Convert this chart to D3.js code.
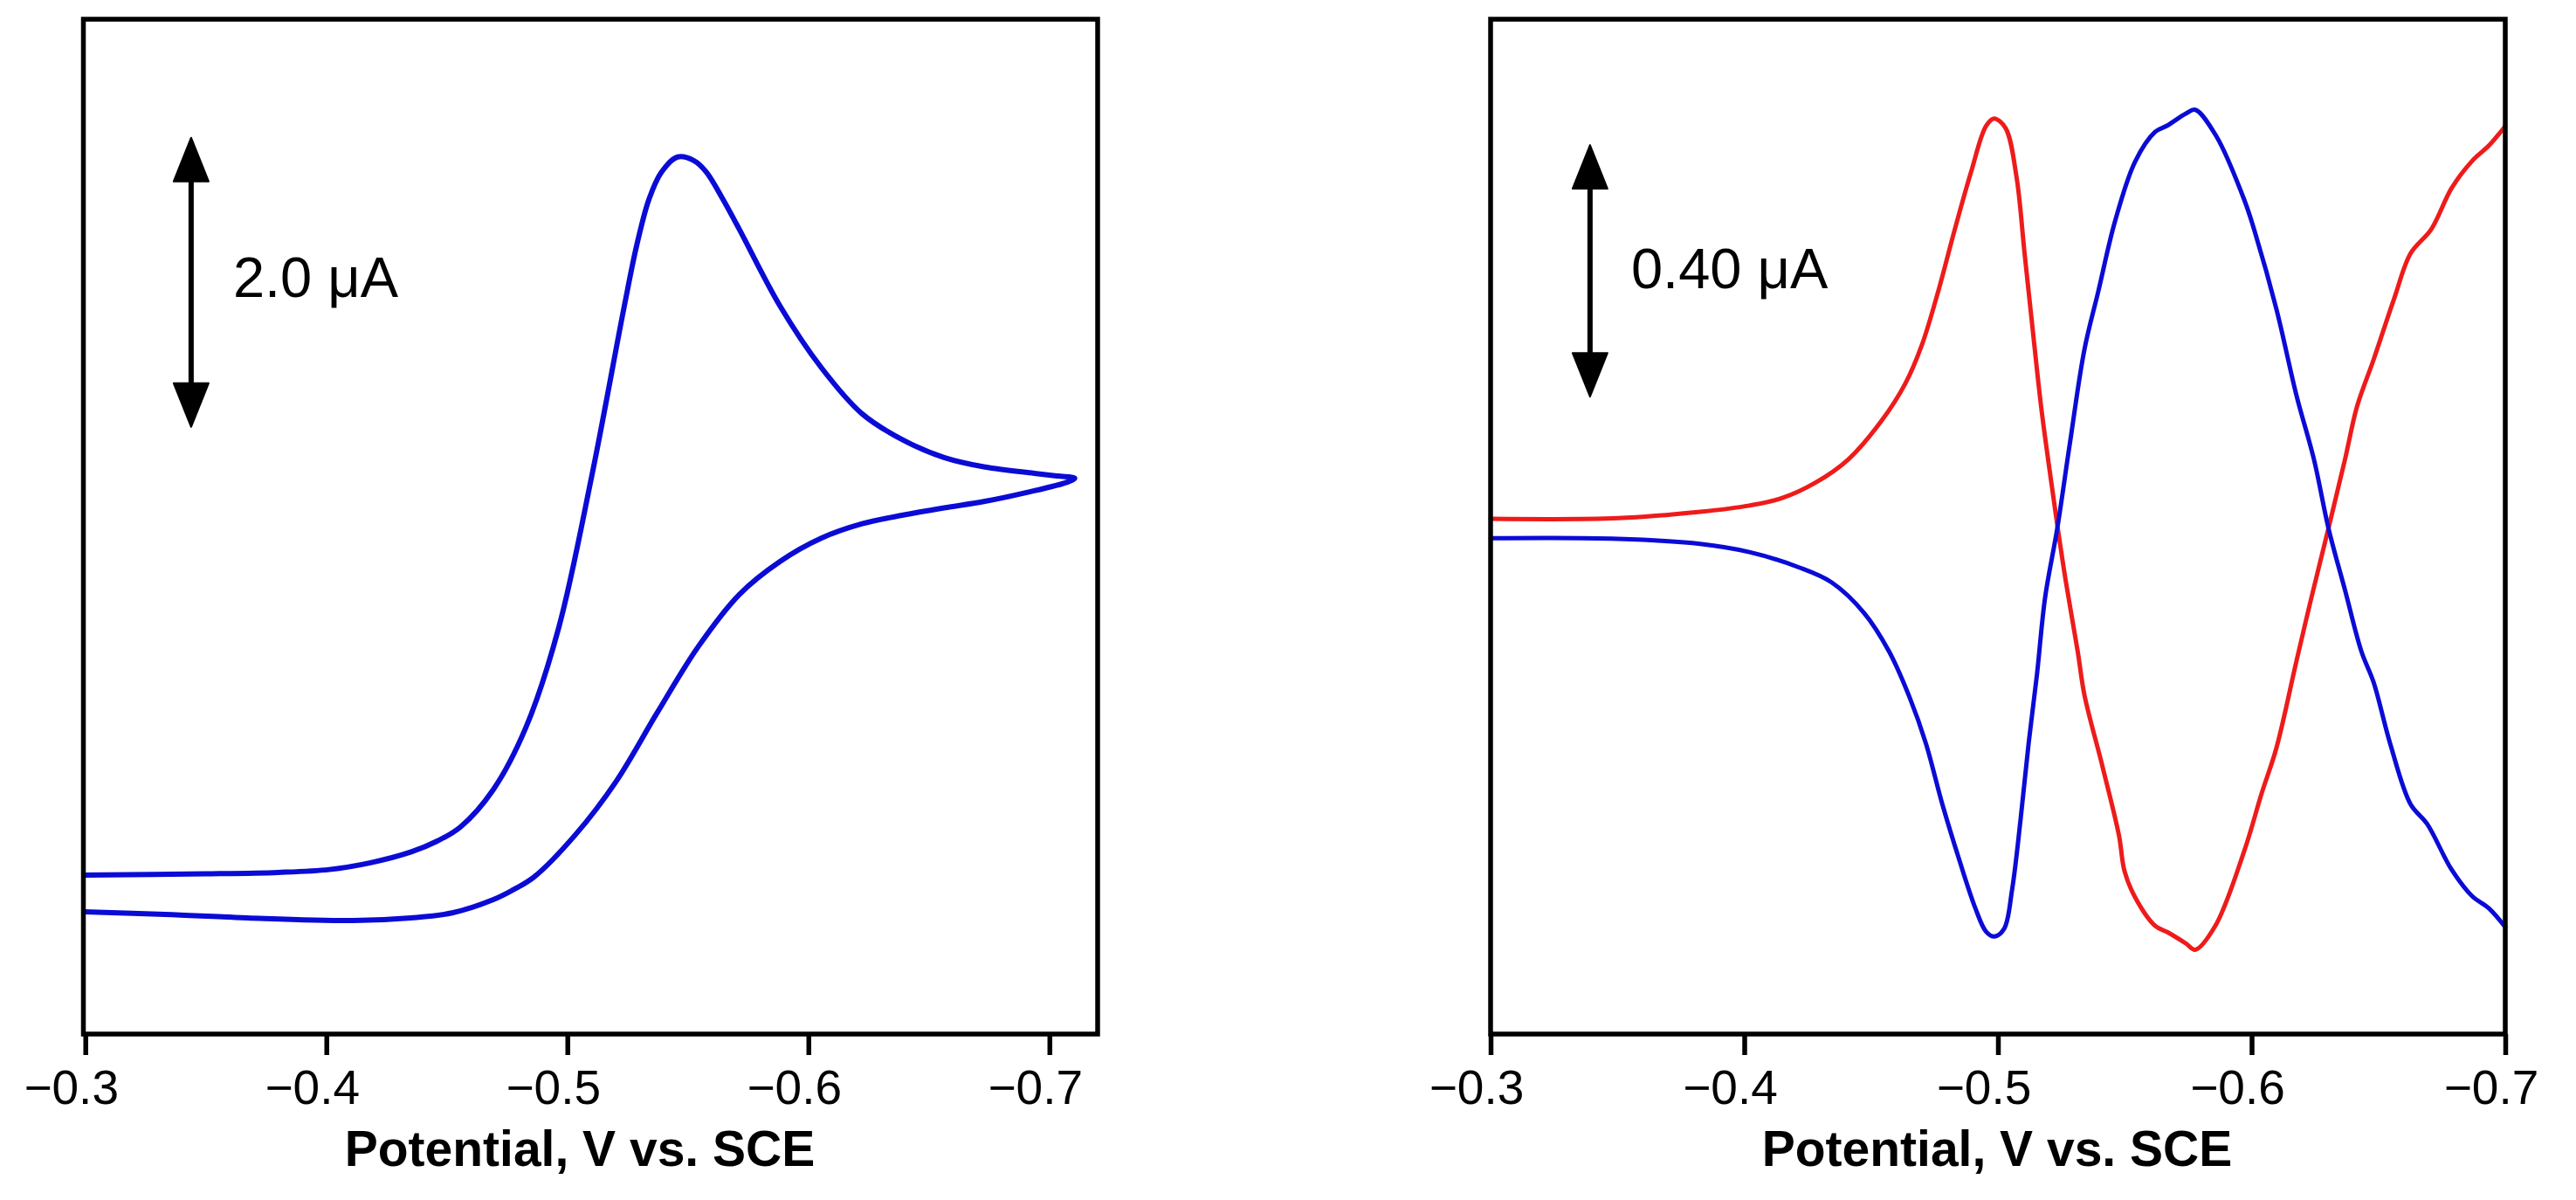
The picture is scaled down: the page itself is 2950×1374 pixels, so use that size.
<!DOCTYPE html>
<html>
<head>
<meta charset="utf-8">
<script src="https://cdn.jsdelivr.net/npm/d3@7"></script>
<style>
  html, body { margin: 0; padding: 0; background: #fff; }
  svg { display: block; }
  text { font-family: "Liberation Sans", Arial, Helvetica, sans-serif; fill: #000; }
</style>
</head>
<body>
<script>
// ---------- DATA ----------
// Left panel: cyclic voltammogram (potential V vs. SCE, current µA, arbitrary zero)
const cvForwardV = [-0.2995, -0.3500, -0.3800, -0.4012, -0.4183, -0.4352, -0.4460, -0.4556, -0.4693, -0.4828, -0.4964, -0.5102, -0.5236, -0.5288, -0.5339, -0.5390, -0.5457, -0.5526, -0.5576, -0.5645, -0.5714, -0.5883, -0.6053, -0.6223, -0.6393, -0.6563, -0.6733, -0.6937, -0.7035, -0.7105];
const cvForwardI = [0, 0.008, 0.018, 0.038, 0.085, 0.160, 0.235, 0.332, 0.592, 1.021, 1.710, 2.767, 3.934, 4.358, 4.677, 4.862, 4.967, 4.941, 4.864, 4.676, 4.465, 3.934, 3.511, 3.190, 3.009, 2.888, 2.822, 2.779, 2.760, 2.745];
const cvReverseV = [-0.7076, -0.6902, -0.6732, -0.6563, -0.6393, -0.6223, -0.6053, -0.5883, -0.5713, -0.5543, -0.5373, -0.5202, -0.5033, -0.4863, -0.4778, -0.4693, -0.4522, -0.4352, -0.4113, -0.3671, -0.3331, -0.2995];
const cvReverseI = [2.719, 2.645, 2.585, 2.540, 2.490, 2.430, 2.330, 2.170, 1.940, 1.580, 1.124, 0.647, 0.278, -0.012, -0.100, -0.170, -0.262, -0.296, -0.314, -0.296, -0.272, -0.254];

// Right panel: red and blue traces
const redV = [-0.3000, -0.3502, -0.3826, -0.4020, -0.4150, -0.4279, -0.4409, -0.4538, -0.4635, -0.4700, -0.4765, -0.4830, -0.4894, -0.4953, -0.4985, -0.5030, -0.5073, -0.5105, -0.5137, -0.5170, -0.5202, -0.5234, -0.5267, -0.5315, -0.5341, -0.5413, -0.5477, -0.5499, -0.5540, -0.5620, -0.5668, -0.5741, -0.5778, -0.5857, -0.5971, -0.6040, -0.6098, -0.6177, -0.6236, -0.6303, -0.6368, -0.6416, -0.6481, -0.6562, -0.6627, -0.6708, -0.6789, -0.6870, -0.6935, -0.7000];
const redI = [0, 0.001, 0.011, 0.021, 0.033, 0.057, 0.094, 0.154, 0.215, 0.276, 0.362, 0.460, 0.551, 0.624, 0.636, 0.621, 0.544, 0.422, 0.301, 0.179, 0.082, -0.010, -0.098, -0.212, -0.280, -0.395, -0.503, -0.560, -0.601, -0.647, -0.657, -0.675, -0.685, -0.647, -0.528, -0.436, -0.364, -0.226, -0.125, -0.015, 0.094, 0.179, 0.253, 0.350, 0.422, 0.460, 0.526, 0.569, 0.593, 0.624];
const blueV = [-0.3000, -0.3502, -0.3826, -0.4020, -0.4214, -0.4344, -0.4473, -0.4571, -0.4652, -0.4716, -0.4781, -0.4846, -0.4911, -0.4953, -0.4985, -0.5024, -0.5056, -0.5089, -0.5121, -0.5154, -0.5186, -0.5234, -0.5283, -0.5341, -0.5396, -0.5461, -0.5540, -0.5620, -0.5668, -0.5741, -0.5778, -0.5861, -0.5971, -0.6015, -0.6098, -0.6177, -0.6246, -0.6303, -0.6368, -0.6433, -0.6481, -0.6546, -0.6627, -0.6692, -0.6789, -0.6870, -0.6935, -0.7000];
const blueI = [-0.031, -0.032, -0.040, -0.053, -0.077, -0.101, -0.150, -0.211, -0.284, -0.357, -0.454, -0.540, -0.619, -0.656, -0.664, -0.652, -0.589, -0.479, -0.357, -0.247, -0.125, -0.015, 0.118, 0.269, 0.362, 0.472, 0.567, 0.615, 0.625, 0.644, 0.650, 0.608, 0.507, 0.453, 0.333, 0.196, 0.094, -0.015, -0.113, -0.211, -0.260, -0.357, -0.454, -0.485, -0.558, -0.600, -0.619, -0.649];

// Axis ticks and labels
const tickValues = [-0.3, -0.4, -0.5, -0.6, -0.7];
const tickLabels = ["\u22120.3", "\u22120.4", "\u22120.5", "\u22120.6", "\u22120.7"];
const axisTitle = "Potential, V vs. SCE";

// Scale bars: potential of bar, current low/high, label anchor
const leftBar = { v: -0.3439, lo: 3.10, hi: 5.10, labelV: -0.3613, labelI: 4.0, label: "2.0 \u03bcA" };
const rightBar = { v: -0.3392, lo: 0.194, hi: 0.594, labelV: -0.3554, labelI: 0.367, label: "0.40 \u03bcA" };

// ---------- LAYOUT ----------
const W = 2950, H = 1374;
const svg = d3.select("body").append("svg").attr("width", W).attr("height", H);

const panels = [
  {
    xDomain: [-0.2992, -0.72], xRange: [95.5, 1257],
    yDomain: [-1.1, 5.92], yRange: [1184, 22],
    titleX: 664,
    series: [
      { v: cvForwardV.concat(cvReverseV), i: cvForwardI.concat(cvReverseI), color: "#0b0bd6", width: 6 }
    ],
    bar: leftBar
  },
  {
    xDomain: [-0.3, -0.7], xRange: [1707, 2869],
    yDomain: [-0.819, 0.794], yRange: [1184, 22],
    titleX: 2287,
    series: [
      { v: redV, i: redI, color: "#ee1b1b", width: 5 },
      { v: blueV, i: blueI, color: "#0b0bd6", width: 5 }
    ],
    bar: rightBar
  }
];

const BLACK = "#000";

panels.forEach(p => {
  const x = d3.scaleLinear().domain(p.xDomain).range(p.xRange);
  const y = d3.scaleLinear().domain(p.yDomain).range(p.yRange);
  const g = svg.append("g");

  // data lines
  const line = d3.line()
    .x(d => x(d[0])).y(d => y(d[1]))
    .curve(d3.curveCatmullRom.alpha(0.5));
  p.series.forEach(s => {
    const pts = s.v.map((v, k) => [v, s.i[k]]);
    g.append("path")
      .attr("d", line(pts))
      .attr("fill", "none")
      .attr("stroke", s.color)
      .attr("stroke-width", s.width)
      .attr("stroke-linejoin", "round")
      .attr("stroke-linecap", "round");
  });

  // frame
  const [x0, x1] = p.xRange;
  const [yb, yt] = p.yRange;
  g.append("rect")
    .attr("x", x0).attr("y", yt)
    .attr("width", x1 - x0).attr("height", yb - yt)
    .attr("fill", "none").attr("stroke", BLACK).attr("stroke-width", 5.5);

  // x axis ticks
  const axis = d3.axisBottom(x).tickValues(tickValues).tickSize(24).tickFormat("");
  const ag = g.append("g").attr("transform", `translate(0,${yb})`).call(axis);
  ag.select(".domain").remove();
  ag.selectAll(".tick line").attr("stroke", BLACK).attr("stroke-width", 5.5);

  // tick labels (digits centred on tick, minus hanging left)
  g.selectAll("text.tl").data(tickValues).enter().append("text")
    .attr("class", "tl")
    .attr("x", d => x(d) - 16)
    .attr("y", 1264)
    .attr("text-anchor", "middle")
    .style("font-size", "55px")
    .text((d, k) => tickLabels[k]);

  // axis title
  g.append("text")
    .attr("x", p.titleX).attr("y", 1335)
    .attr("text-anchor", "middle")
    .style("font-size", "57px").style("font-weight", "bold")
    .text(axisTitle);

  // scale bar (double arrow)
  const b = p.bar;
  const bx = x(b.v), top = y(b.hi), bot = y(b.lo);
  const headL = 50, headW = 20;
  g.append("line")
    .attr("x1", bx).attr("x2", bx)
    .attr("y1", top + headL - 2).attr("y2", bot - headL + 2)
    .attr("stroke", BLACK).attr("stroke-width", 6);
  g.append("path")
    .attr("d", `M${bx},${top} L${bx + headW},${top + headL} L${bx - headW},${top + headL} Z`)
    .attr("fill", BLACK).attr("stroke", BLACK).attr("stroke-width", 2).attr("stroke-linejoin", "round");
  g.append("path")
    .attr("d", `M${bx},${bot} L${bx + headW},${bot - headL} L${bx - headW},${bot - headL} Z`)
    .attr("fill", BLACK).attr("stroke", BLACK).attr("stroke-width", 2).attr("stroke-linejoin", "round");
  g.append("text")
    .attr("x", x(b.labelV)).attr("y", y(b.labelI))
    .style("font-size", "65px")
    .text(b.label);
});
</script>
</body>
</html>
